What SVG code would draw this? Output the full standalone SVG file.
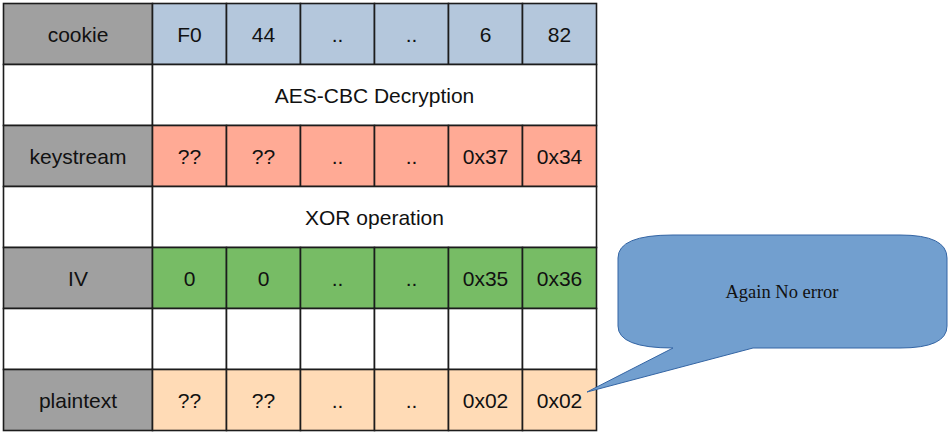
<svg xmlns="http://www.w3.org/2000/svg" width="949" height="437" viewBox="0 0 949 437">
  <style>
    .cell { stroke: #1c1c1c; stroke-width: 1.6; }
    .hdr { fill: #a0a0a0; }
    .ck { fill: #b4c7dc; }
    .ks { fill: #ffaa95; }
    .iv { fill: #77bc65; }
    .pt { fill: #ffdbb6; }
    .wh { fill: #ffffff; }
    text { font-family: "Liberation Sans", Arial, sans-serif; font-size: 21px; fill: #111; text-anchor: middle; }
    .note { font-family: "Liberation Serif", "Times New Roman", serif; font-size: 18.5px; }
  </style>
  <rect width="949" height="437" fill="#ffffff"/>

  <!-- row: cookie -->
  <g id="row-cookie">
    <rect class="cell hdr" x="3.5" y="3.5" width="149" height="61"/>
    <rect class="cell ck" x="152.5" y="3.5" width="74" height="61"/>
    <rect class="cell ck" x="226.5" y="3.5" width="74" height="61"/>
    <rect class="cell ck" x="300.5" y="3.5" width="74" height="61"/>
    <rect class="cell ck" x="374.5" y="3.5" width="74" height="61"/>
    <rect class="cell ck" x="448.5" y="3.5" width="74" height="61"/>
    <rect class="cell ck" x="522.5" y="3.5" width="74" height="61"/>
    <text x="78" y="42">cookie</text>
    <text x="189.5" y="42">F0</text>
    <text x="263.5" y="42">44</text>
    <text x="337.5" y="42">..</text>
    <text x="411.5" y="42">..</text>
    <text x="485.5" y="42">6</text>
    <text x="559.5" y="42">82</text>
  </g>

  <!-- row: decryption step -->
  <g id="row-aes">
    <rect class="cell wh" x="3.5" y="64.5" width="149" height="61"/>
    <rect class="cell wh" x="152.5" y="64.5" width="444" height="61"/>
    <text x="374.5" y="103">AES-CBC Decryption</text>
  </g>

  <!-- row: keystream -->
  <g id="row-keystream">
    <rect class="cell hdr" x="3.5" y="125.5" width="149" height="61"/>
    <rect class="cell ks" x="152.5" y="125.5" width="74" height="61"/>
    <rect class="cell ks" x="226.5" y="125.5" width="74" height="61"/>
    <rect class="cell ks" x="300.5" y="125.5" width="74" height="61"/>
    <rect class="cell ks" x="374.5" y="125.5" width="74" height="61"/>
    <rect class="cell ks" x="448.5" y="125.5" width="74" height="61"/>
    <rect class="cell ks" x="522.5" y="125.5" width="74" height="61"/>
    <text x="78" y="164">keystream</text>
    <text x="189.5" y="164">??</text>
    <text x="263.5" y="164">??</text>
    <text x="337.5" y="164">..</text>
    <text x="411.5" y="164">..</text>
    <text x="485.5" y="164">0x37</text>
    <text x="559.5" y="164">0x34</text>
  </g>

  <!-- row: xor step -->
  <g id="row-xor">
    <rect class="cell wh" x="3.5" y="186.5" width="149" height="61"/>
    <rect class="cell wh" x="152.5" y="186.5" width="444" height="61"/>
    <text x="374.5" y="225">XOR operation</text>
  </g>

  <!-- row: IV -->
  <g id="row-iv">
    <rect class="cell hdr" x="3.5" y="247.5" width="149" height="61"/>
    <rect class="cell iv" x="152.5" y="247.5" width="74" height="61"/>
    <rect class="cell iv" x="226.5" y="247.5" width="74" height="61"/>
    <rect class="cell iv" x="300.5" y="247.5" width="74" height="61"/>
    <rect class="cell iv" x="374.5" y="247.5" width="74" height="61"/>
    <rect class="cell iv" x="448.5" y="247.5" width="74" height="61"/>
    <rect class="cell iv" x="522.5" y="247.5" width="74" height="61"/>
    <text x="78" y="286">IV</text>
    <text x="189.5" y="286">0</text>
    <text x="263.5" y="286">0</text>
    <text x="337.5" y="286">..</text>
    <text x="411.5" y="286">..</text>
    <text x="485.5" y="286">0x35</text>
    <text x="559.5" y="286">0x36</text>
  </g>

  <!-- row: empty -->
  <g id="row-blank">
    <rect class="cell wh" x="3.5" y="308.5" width="149" height="61"/>
    <rect class="cell wh" x="152.5" y="308.5" width="74" height="61"/>
    <rect class="cell wh" x="226.5" y="308.5" width="74" height="61"/>
    <rect class="cell wh" x="300.5" y="308.5" width="74" height="61"/>
    <rect class="cell wh" x="374.5" y="308.5" width="74" height="61"/>
    <rect class="cell wh" x="448.5" y="308.5" width="74" height="61"/>
    <rect class="cell wh" x="522.5" y="308.5" width="74" height="61"/>
  </g>

  <!-- row: plaintext -->
  <g id="row-plaintext">
    <rect class="cell hdr" x="3.5" y="369.5" width="149" height="61"/>
    <rect class="cell pt" x="152.5" y="369.5" width="74" height="61"/>
    <rect class="cell pt" x="226.5" y="369.5" width="74" height="61"/>
    <rect class="cell pt" x="300.5" y="369.5" width="74" height="61"/>
    <rect class="cell pt" x="374.5" y="369.5" width="74" height="61"/>
    <rect class="cell pt" x="448.5" y="369.5" width="74" height="61"/>
    <rect class="cell pt" x="522.5" y="369.5" width="74" height="61"/>
    <text x="78" y="408">plaintext</text>
    <text x="189.5" y="408">??</text>
    <text x="263.5" y="408">??</text>
    <text x="337.5" y="408">..</text>
    <text x="411.5" y="408">..</text>
    <text x="485.5" y="408">0x02</text>
    <text x="559.5" y="408">0x02</text>
  </g>

  <!-- speech bubble pointing at the last padding byte -->
  <g id="callout">
    <path d="M 673 235 L 900 235 Q 947 235 947 258 L 947 326 Q 947 348 900 348 L 753 348 L 587 392 L 673 348 Q 618 348 618 326 L 618 258 Q 618 235 673 235 Z"
          fill="#729fcf" stroke="#3465a4" stroke-width="1"/>
    <text class="note" x="782" y="298">Again No error</text>
  </g>
</svg>
